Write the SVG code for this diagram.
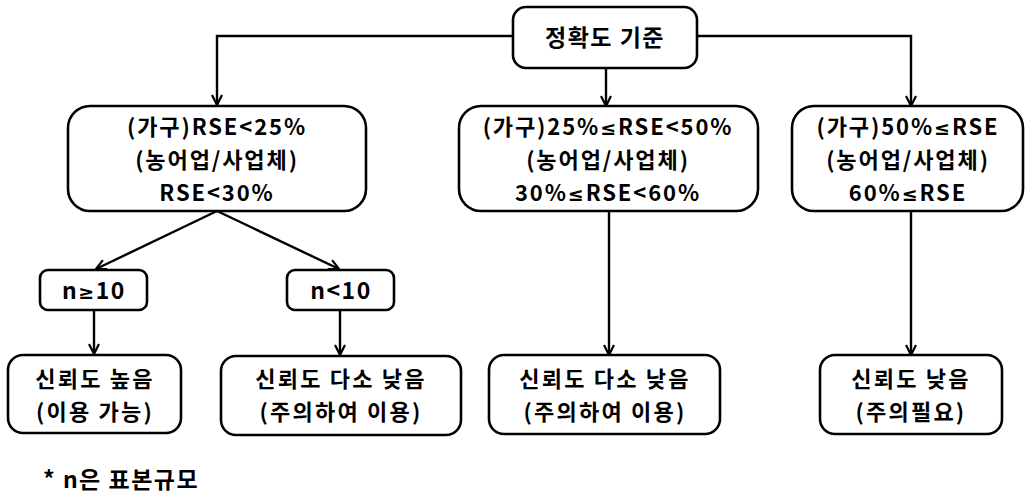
<svg xmlns="http://www.w3.org/2000/svg" width="1025" height="494" viewBox="0 0 1025 494">
<style>
.box{fill:#fff;stroke:#000;stroke-width:2.6}
.t{font-family:"Noto Sans CJK KR","Noto Sans",sans-serif;font-weight:bold;font-size:23px;fill:#000;text-anchor:middle;letter-spacing:1.5px}
.m{font-size:22px;letter-spacing:1.9px}
.b{font-size:22px;letter-spacing:2.2px}
.s{font-family:"DejaVu Sans",sans-serif;font-size:19px}
.c{fill:none;stroke:#000;stroke-width:2.4}
</style>
<defs>
<marker id="ah" viewBox="0 0 12 12" refX="11" refY="6" markerWidth="12" markerHeight="12" markerUnits="userSpaceOnUse" orient="auto">
<path d="M1,1 L11,6 L1,11" fill="none" stroke="#000" stroke-width="2.2"/>
</marker>
</defs>
<rect width="1025" height="494" fill="#fff"/>
<g id="connectors">
<path class="c" d="M512,36 H217 V105" marker-end="url(#ah)"/>
<path class="c" d="M697,36 H911 V106" marker-end="url(#ah)"/>
<path class="c" d="M606,68 V106" marker-end="url(#ah)"/>
<path class="c" d="M217,211 L96,269" marker-end="url(#ah)"/>
<path class="c" d="M217,211 L339,269" marker-end="url(#ah)"/>
<path class="c" d="M94,310 V354" marker-end="url(#ah)"/>
<path class="c" d="M340,310 V355" marker-end="url(#ah)"/>
<path class="c" d="M609,211 V355" marker-end="url(#ah)"/>
<path class="c" d="M911,211 V355" marker-end="url(#ah)"/>
</g>
<g id="root">
<rect class="box" x="513" y="7" width="184" height="61" rx="13"/>
<text class="t" x="605" y="46">정확도 기준</text>
</g>
<g id="cond1">
<rect class="box" x="68" y="106" width="298" height="105" rx="22"/>
<text class="t m" x="217" y="135">(가구)RSE&lt;25%</text>
<text class="t m" x="217" y="168">(농어업/사업체)</text>
<text class="t m" x="217" y="201">RSE&lt;30%</text>
</g>
<g id="cond2">
<rect class="box" x="459" y="106" width="299" height="105" rx="22"/>
<text class="t m" x="608" y="135">(가구)25%<tspan class="s">≤</tspan>RSE&lt;50%</text>
<text class="t m" x="608" y="168">(농어업/사업체)</text>
<text class="t m" x="608" y="201">30%<tspan class="s">≤</tspan>RSE&lt;60%</text>
</g>
<g id="cond3">
<rect class="box" x="792" y="106" width="231" height="105" rx="22"/>
<text class="t m" x="908" y="135">(가구)50%<tspan class="s">≤</tspan>RSE</text>
<text class="t m" x="908" y="168">(농어업/사업체)</text>
<text class="t m" x="908" y="201">60%<tspan class="s">≤</tspan>RSE</text>
</g>
<g id="nge10">
<rect class="box" x="40" y="270" width="107" height="40" rx="8"/>
<text class="t" x="94" y="299">n<tspan class="s">≥</tspan>10</text>
</g>
<g id="nlt10">
<rect class="box" x="287" y="270" width="107" height="40" rx="8"/>
<text class="t" x="341" y="299">n&lt;10</text>
</g>
<g id="high">
<rect class="box" x="8" y="355" width="173" height="78" rx="15"/>
<text class="t b" x="95" y="387">신뢰도 높음</text>
<text class="t b" x="95" y="420">(이용 가능)</text>
</g>
<g id="midlow1">
<rect class="box" x="221" y="356" width="240" height="79" rx="15"/>
<text class="t b" x="341" y="387">신뢰도 다소 낮음</text>
<text class="t b" x="341" y="420">(주의하여 이용)</text>
</g>
<g id="midlow2">
<rect class="box" x="489" y="355" width="231" height="79" rx="15"/>
<text class="t b" x="605" y="387">신뢰도 다소 낮음</text>
<text class="t b" x="605" y="420">(주의하여 이용)</text>
</g>
<g id="low">
<rect class="box" x="820" y="355" width="182" height="79" rx="15"/>
<text class="t b" x="911" y="387">신뢰도 낮음</text>
<text class="t b" x="911" y="420">(주의필요)</text>
</g>
<g id="note">
<text class="t" x="43" y="488" style="text-anchor:start">* n은 표본규모</text>
</g>
</svg>
